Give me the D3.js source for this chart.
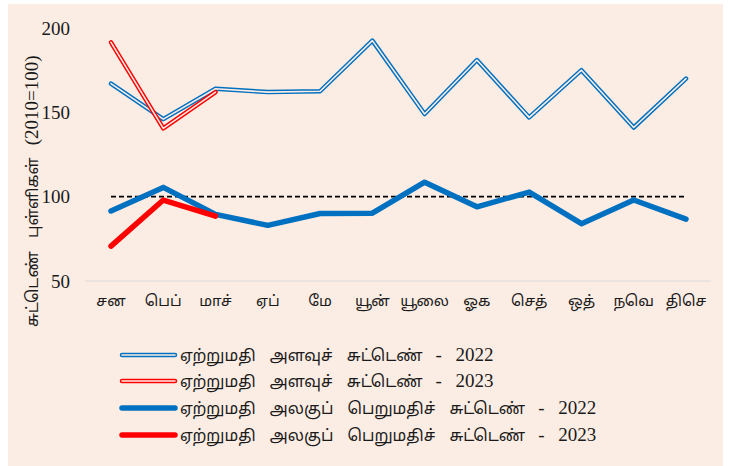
<!DOCTYPE html>
<html lang="ta">
<head>
<meta charset="utf-8">
<title>Export indices</title>
<script src="https://d3js.org/d3.v7.min.js"></script>
<style>
  body { margin: 0; background: #fff; }
  text { font-family: "Liberation Serif", "Noto Serif Tamil", "Noto Sans Tamil", "Lohit Tamil", "Latha", serif; fill: #1a1a1a; }
  .ta { font-family: "Noto Sans Tamil", "Noto Serif Tamil", "Lohit Tamil", "Latha", sans-serif; }
  .num { font-family: "Liberation Serif", "Times New Roman", serif; }
</style>
</head>
<body>
<svg id="svg" width="734" height="466"></svg>
<script>
// months (Tamil short names)
var months = ["சன", "பெப்", "மாச்", "ஏப்", "மே", "யூன்", "யூலை", "ஓக", "செத்", "ஒத்", "நவெ", "திசெ"];
var yTicks = [50, 100, 150, 200];

// volume index
var vol2022 = [167, 146, 164, 162, 162.5, 192.5, 149, 181, 147, 175, 141, 170];
var vol2023 = [191.5, 140.5, 162];
// unit value index
var uv2022 = [91.5, 105.5, 89.5, 83, 90, 90.2, 108.6, 94, 102.7, 84, 98, 86.7];
var uv2023 = [70.7, 98, 88.5];

var seriesNames = [
  "ஏற்றுமதி அளவுச் சுட்டெண்",
  "ஏற்றுமதி அளவுச் சுட்டெண்",
  "ஏற்றுமதி அலகுப் பெறுமதிச் சுட்டெண்",
  "ஏற்றுமதி அலகுப் பெறுமதிச் சுட்டெண்"
];
var seriesYears = ["2022", "2023", "2022", "2023"];

var blue = "#0070c0", red = "#ff0000", bg = "#fbede4";

var svg = d3.select("#svg");
svg.append("rect").attr("x", 8).attr("y", 4).attr("width", 715).attr("height", 462)
  .attr("fill", bg);

var x = d3.scalePoint().domain(months).range([111, 686]);
var y = d3.scaleLinear().domain([50, 200]).range([281, 28]);

// baseline
svg.append("line").attr("x1", 85).attr("x2", 711).attr("y1", y(50)).attr("y2", y(50))
  .attr("stroke", "#d9d9d9").attr("stroke-width", 1.2);

// y tick labels
svg.selectAll(".ytick").data(yTicks).enter().append("text")
  .attr("class", "num")
  .attr("x", 70).attr("y", function(d) { return y(d); })
  .attr("dy", "0.35em").attr("text-anchor", "end")
  .style("font-size", "19px").text(function(d) { return d; });

// x labels
svg.selectAll(".xtick").data(months).enter().append("text")
  .attr("class", "ta")
  .attr("x", function(d) { return x(d); }).attr("y", 306)
  .attr("text-anchor", "middle").style("font-size", "15px")
  .text(function(d) { return d; });

// y title
var yt = svg.append("text").attr("transform", "translate(38,327) rotate(-90)");
yt.append("tspan").attr("class", "ta").style("font-size", "16px").attr("word-spacing", "9")
  .text("சுட்டெண் புள்ளிகள்");
yt.append("tspan").attr("class", "num").style("font-size", "19px").attr("dx", 12)
  .text("(2010=100)");

// reference line at 100
svg.append("line").attr("x1", x(months[0])).attr("x2", x(months[11]))
  .attr("y1", y(100)).attr("y2", y(100))
  .attr("stroke", "#000").attr("stroke-width", 1.6).attr("stroke-dasharray", "5,3");

var line = d3.line().x(function(d, i) { return x(months[i]); }).y(function(d) { return y(d); });

function doubleLine(data, col) {
  svg.append("path").attr("d", line(data)).attr("fill", "none")
    .attr("stroke", col).attr("stroke-width", 4.5).attr("stroke-linejoin", "round").attr("stroke-linecap", "round");
  svg.append("path").attr("d", line(data)).attr("fill", "none")
    .attr("stroke", bg).attr("stroke-width", 1.6).attr("stroke-linejoin", "round").attr("stroke-linecap", "round");
}
function thickLine(data, col) {
  svg.append("path").attr("d", line(data)).attr("fill", "none")
    .attr("stroke", col).attr("stroke-width", 5.5).attr("stroke-linejoin", "round").attr("stroke-linecap", "round");
}

thickLine(uv2022, blue);
thickLine(uv2023, red);
doubleLine(vol2022, blue);
doubleLine(vol2023, red);

// legend
var legY = [355, 381, 408, 435];
var styles = [["d", blue], ["d", red], ["t", blue], ["t", red]];
styles.forEach(function(s, i) {
  var g = svg.append("g");
  if (s[0] == "d") {
    g.append("line").attr("x1", 122).attr("x2", 175).attr("y1", legY[i]).attr("y2", legY[i])
      .attr("stroke", s[1]).attr("stroke-width", 4.5).attr("stroke-linecap", "round");
    g.append("line").attr("x1", 122).attr("x2", 175).attr("y1", legY[i]).attr("y2", legY[i])
      .attr("stroke", bg).attr("stroke-width", 1.6).attr("stroke-linecap", "round");
  } else {
    g.append("line").attr("x1", 122).attr("x2", 175).attr("y1", legY[i]).attr("y2", legY[i])
      .attr("stroke", s[1]).attr("stroke-width", 5.5).attr("stroke-linecap", "round");
  }
  var t = g.append("text").attr("class", "ta").attr("x", 180).attr("y", legY[i] + 6)
    .style("font-size", "16px").attr("word-spacing", "10").text(seriesNames[i]);
  var w = t.node().getComputedTextLength();
  g.append("text").attr("class", "num").attr("x", 180 + w + 13).attr("y", legY[i] + 6)
    .style("font-size", "19px").text("-");
  g.append("text").attr("class", "num").attr("x", 180 + w + 33).attr("y", legY[i] + 6)
    .style("font-size", "19px").text(seriesYears[i]);
});
</script>
</body>
</html>
